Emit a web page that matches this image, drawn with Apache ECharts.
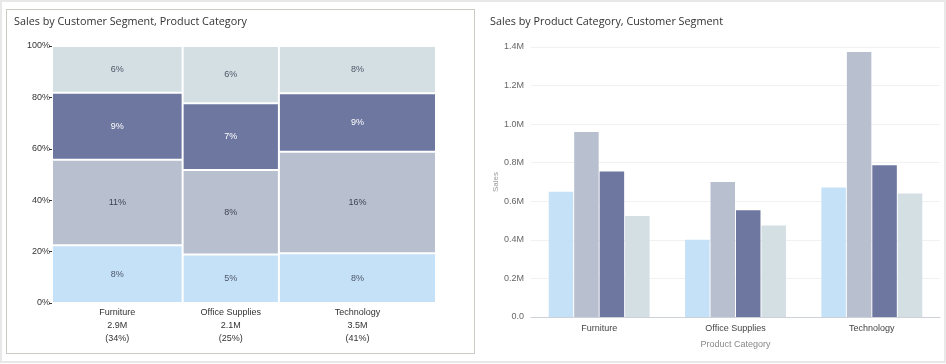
<!DOCTYPE html>
<html>
<head>
<meta charset="utf-8">
<script src="https://cdn.jsdelivr.net/npm/echarts@6/dist/echarts.min.js"></script>
<style>
  html, body { margin:0; padding:0; background:#ffffff; }
  #frame { position:absolute; left:0; top:0; width:942px; height:359px; border:2px solid #e8e8e8; border-top-width:2px; }
  #leftPanel { position:absolute; left:6px; top:9px; width:467px; height:343px; border:1px solid #c9ccc2; background:#fff; }
  #chart { position:absolute; left:0; top:0; width:946px; height:364px; }
</style>
</head>
<body>
<div id="frame"></div>
<div id="leftPanel"></div>
<div id="chart"></div>
<script>
// ---- data ----
var categories = ['Furniture', 'Office Supplies', 'Technology'];
var segments = ['Consumer', 'Corporate', 'Home Office', 'Small Business'];
var consumerSales = [650000, 401000, 671000];
var corporateSales = [959000, 700000, 1374000];
var homeOfficeSales = [754000, 553000, 787000];
var smallBusinessSales = [524000, 474000, 640000];
var segmentColors = ['#c5e1f8', '#b8bfcf', '#6d77a0', '#d4dfe4'];
var labelColors = ['#4f5566', '#3f4454', '#ffffff', '#4f5566'];
var pctTicks = [0, 20, 40, 60, 80, 100];

var seriesValues = [consumerSales, corporateSales, homeOfficeSales, smallBusinessSales];
var FONT = '"Liberation Sans", Arial, sans-serif';
var TITLE_FONT = '"Open Sans", "Noto Sans", sans-serif';

// ---- mosaic geometry derived from data ----
var catTotals = categories.map(function (c, i) {
  return seriesValues.reduce(function (s, arr) { return s + arr[i]; }, 0);
});
var grand = catTotals.reduce(function (a, b) { return a + b; }, 0);
var mosaicData = [];
var catLabelData = [];
var cumX = 0;
categories.forEach(function (c, i) {
  var x0 = cumX / grand, x1 = (cumX + catTotals[i]) / grand;
  var cumY = 0;
  seriesValues.forEach(function (arr, j) {
    var y0 = cumY / catTotals[i] * 100;
    var y1 = (cumY + arr[i]) / catTotals[i] * 100;
    mosaicData.push([x0, x1, y0, y1, j, Math.round(arr[i] / grand * 100) + '%']);
    cumY += arr[i];
  });
  catLabelData.push([(x0 + x1) / 2, c + '\n' + (catTotals[i] / 1e6).toFixed(1) + 'M\n(' + Math.round(catTotals[i] / grand * 100) + '%)']);
  cumX += catTotals[i];
});

var chart = echarts.init(document.getElementById('chart'), null, { renderer: 'canvas' });
var option = {
  animation: false,
  backgroundColor: 'transparent',
  title: [
    { text: 'Sales by Customer Segment, Product Category', left: 14, top: 16, padding: 0,
      textStyle: { fontFamily: TITLE_FONT, fontSize: 10.8, fontWeight: 'normal', color: '#333' } },
    { text: 'Sales by Product Category, Customer Segment', left: 490, top: 16, padding: 0,
      textStyle: { fontFamily: TITLE_FONT, fontSize: 10.8, fontWeight: 'normal', color: '#333' } }
  ],
  grid: [
    { left: 52, top: 46, width: 384, height: 257 },
    { left: 531, top: 47, width: 409, height: 270 }
  ],
  xAxis: [
    { gridIndex: 0, type: 'value', min: 0, max: 1, show: false },
    { gridIndex: 1, type: 'category', data: categories,
      axisLine: { lineStyle: { color: '#cdd1da' } }, axisTick: { show: false },
      axisLabel: { fontFamily: FONT, fontSize: 9, color: '#444', margin: 7 },
      name: 'Product Category', nameLocation: 'middle', nameGap: 23,
      nameTextStyle: { fontFamily: FONT, fontSize: 9, color: '#888' } }
  ],
  yAxis: [
    { gridIndex: 0, type: 'value', min: 0, max: 100, interval: 20,
      axisLine: { show: false }, splitLine: { show: false },
      axisTick: { show: true, length: 3, lineStyle: { color: '#333' } },
      axisLabel: { fontFamily: FONT, fontSize: 9, color: '#333', margin: 2,
        formatter: function (v) { return v + '%'; } } },
    { gridIndex: 1, type: 'value', min: 0, max: 1400000, interval: 200000,
      axisLine: { show: false }, axisTick: { show: false },
      splitLine: { lineStyle: { color: '#f1f1f1' } },
      axisLabel: { fontFamily: FONT, fontSize: 9, color: '#666', margin: 7,
        formatter: function (v) { return v === 0 ? '0.0' : (v / 1e6).toFixed(1) + 'M'; } },
      name: 'Sales', nameLocation: 'middle', nameGap: 31, nameRotate: 90,
      nameTextStyle: { fontFamily: FONT, fontSize: 8, color: '#999' } }
  ],
  series: [
    {
      type: 'custom', xAxisIndex: 0, yAxisIndex: 0, data: mosaicData, clip: false,
      renderItem: function (params, api) {
        var p0 = api.coord([api.value(0), api.value(3)]);
        var p1 = api.coord([api.value(1), api.value(2)]);
        var j = api.value(4);
        var x = p0[0] + 1, y = p0[1] + 1, w = p1[0] - p0[0] - 2, h = p1[1] - p0[1] - 2;
        return {
          type: 'group',
          children: [
            { type: 'rect', shape: { x: x, y: y, width: w, height: h },
              style: { fill: segmentColors[j] } },
            { type: 'text', style: { x: x + w / 2, y: y + h / 2,
              text: mosaicData[params.dataIndex][5], align: 'center', verticalAlign: 'middle',
              fill: labelColors[j], font: '9px ' + FONT } }
          ]
        };
      }
    },
    {
      type: 'custom', xAxisIndex: 0, yAxisIndex: 0, data: catLabelData, clip: false,
      renderItem: function (params, api) {
        var p = api.coord([api.value(0), 0]);
        return { type: 'text', style: { x: p[0], y: p[1] + 3,
          text: catLabelData[params.dataIndex][1], align: 'center', verticalAlign: 'top',
          lineHeight: 13, fill: '#333', font: '9px ' + FONT } };
      }
    }
  ].concat(segments.map(function (s, j) {
    return { name: s, type: 'bar', xAxisIndex: 1, yAxisIndex: 1, data: seriesValues[j],
      barCategoryGap: '26%', barGap: '4%', itemStyle: { color: segmentColors[j] } };
  }))
};
chart.setOption(option);
</script>
</body>
</html>
